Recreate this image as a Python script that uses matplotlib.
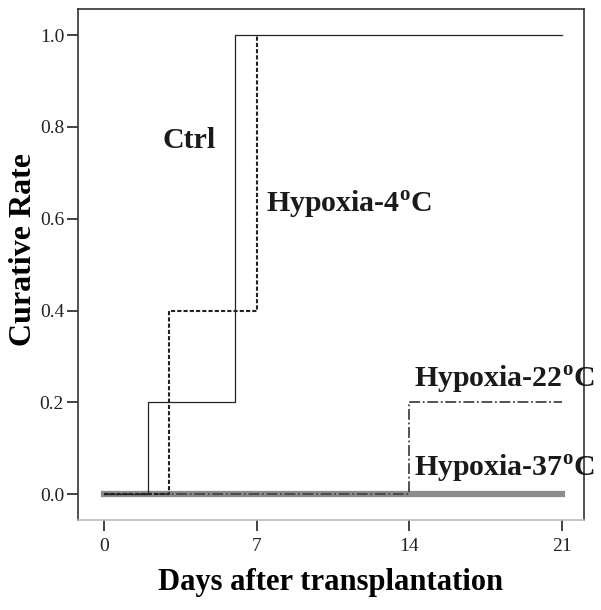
import numpy as np
import matplotlib.pyplot as plt

# step data (day, cumulative rate)
ctrl_days = [0, 2, 6, 21]
ctrl_rate = [0.0, 0.2, 1.0, 1.0]
h4_days = [0, 3, 7, 7]
h4_rate = [0.0, 0.4, 1.0, 1.0]
h22_days = [0, 14, 21]
h22_rate = [0.0, 0.2, 0.2]
h37_days = [0, 21]
h37_rate = [0.0, 0.0]

xticks = [0, 7, 14, 21]
yticks = [0.0, 0.2, 0.4, 0.6, 0.8, 1.0]

plt.rcParams['font.family'] = ['Liberation Serif', 'DejaVu Serif']
plt.rcParams['mathtext.fontset'] = 'custom'
plt.rcParams['mathtext.rm'] = 'Liberation Serif'
plt.rcParams['mathtext.bf'] = 'Liberation Serif:bold'

fig = plt.figure(figsize=(6.01, 6.10), dpi=100)
ax = fig.add_axes([0.1298, 0.1475, 0.842, 0.8377])

ax.step(h37_days, h37_rate, where='post', color='#8c8c8c', lw=4.5, zorder=1)
ax.step(h22_days, h22_rate, where='post', color='#444444', lw=1.3,
        linestyle=(0, (6, 1.5, 1, 1.5)), zorder=2)
ax.step(h4_days, h4_rate, where='post', color='#222222', lw=1.5,
        linestyle=(0, (2, 1)), zorder=3)
ax.step(ctrl_days, ctrl_rate, where='post', color='#222222', lw=0.9, zorder=4)

ax.set_xlim(-1.19, 22.02)
ax.set_ylim(-0.0566, 1.057)
ax.set_xticks(xticks)
ax.set_yticks(yticks)
ax.set_yticklabels(['%.1f' % v for v in yticks])
ax.tick_params(direction='out', length=8, width=1.2, labelsize=14,
               colors='#222222', pad=2)
ax.tick_params(axis='x', pad=5)

for side in ['left', 'right', 'top']:
    ax.spines[side].set_color('#333333')
    ax.spines[side].set_linewidth(1.2)
ax.spines['bottom'].set_color('#bbbbbb')
ax.spines['bottom'].set_linewidth(1.2)

ax.set_xlabel('Days after transplantation', fontsize=22, fontweight='bold', labelpad=9)
ax.set_ylabel('Curative Rate', fontsize=23, fontweight='bold')
ax.yaxis.set_label_coords(-0.08, 0.53)

tk = dict(fontsize=21.5, fontweight='bold', color='#1a1a1a', va='baseline')
ax.text(2.7, 0.754, 'Ctrl', **tk)
ax.text(7.45, 0.614, 'Hypoxia-4$^{\\mathbf{o}}$C', **tk)
ax.text(14.2, 0.231, 'Hypoxia-22$^{\\mathbf{o}}$C', **tk)
ax.text(14.2, 0.037, 'Hypoxia-37$^{\\mathbf{o}}$C', **tk)

fig.savefig('out.png', dpi=100)
